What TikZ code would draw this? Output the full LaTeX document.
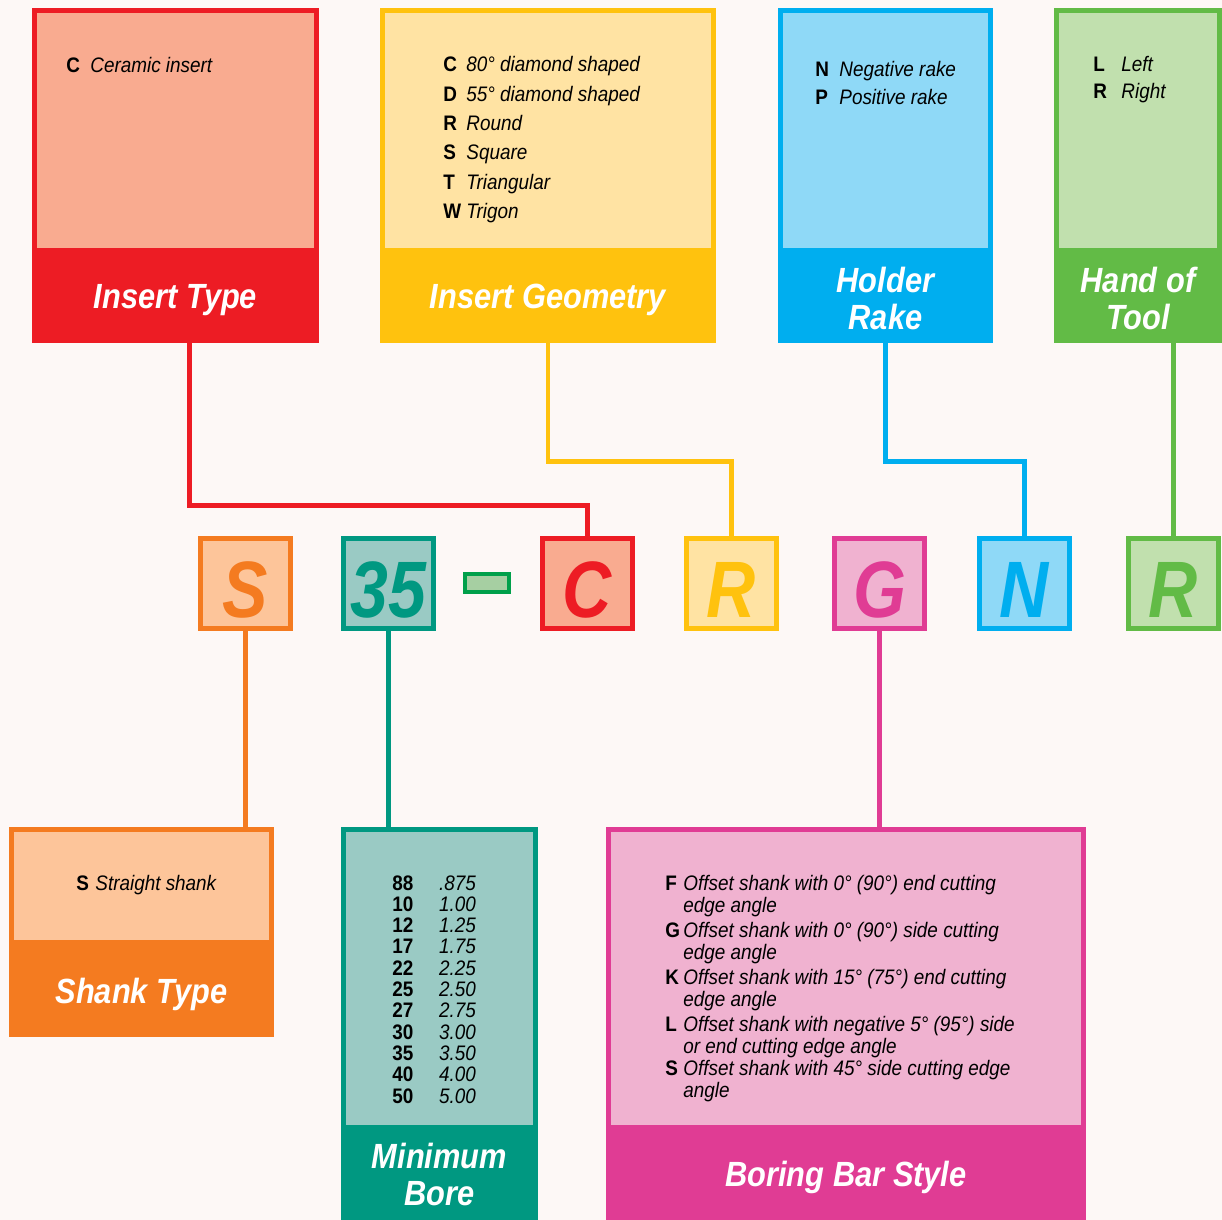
\documentclass[tikz,border=0pt]{standalone}
\usepackage{fontspec}
\usepackage{array}
\setmainfont{Liberation Sans}[FakeStretch=0.9]
\newfontfamily\headfont{Liberation Sans}[FakeStretch=0.88]
\newfontfamily\bigfont{Liberation Sans}[FakeStretch=0.85]
\usetikzlibrary{positioning}
\definecolor{insred}{HTML}{ED1C24}
\definecolor{insredlt}{HTML}{F9AB90}
\definecolor{geoyel}{HTML}{FFC20E}
\definecolor{geoyellt}{HTML}{FFE3A3}
\definecolor{rakeblu}{HTML}{00AEEF}
\definecolor{rakeblult}{HTML}{8FD9F7}
\definecolor{handgrn}{HTML}{62BB46}
\definecolor{handgrnlt}{HTML}{C1E0AE}
\definecolor{shankor}{HTML}{F47B20}
\definecolor{shankorlt}{HTML}{FDC59A}
\definecolor{boreteal}{HTML}{009881}
\definecolor{boreteallt}{HTML}{9ACAC4}
\definecolor{barmag}{HTML}{E03C94}
\definecolor{barmaglt}{HTML}{F0B2D0}
\definecolor{dashgrn}{HTML}{00A04A}
\definecolor{dashgrnlt}{HTML}{A6CFA2}
\definecolor{bgtint}{HTML}{FDF8F6}

\begin{document}
\begin{tikzpicture}[x=0.5pt, y=-0.5pt,
  card/.style={rectangle, inner sep=0pt, fill=#1},
  panel/.style={rectangle, inner sep=0pt, fill=#1, anchor=north},
  head/.style={text=white, align=center, inner sep=0pt,
               font=\headfont\bfseries\itshape\fontsize{17.5}{18.5}\selectfont},
  code/.style={rectangle, draw=#1, text=#1, line width=2.5pt, minimum size=45pt,
               inner sep=0pt, text height=34pt, text depth=0pt,
               font=\bigfont\bfseries\itshape\fontsize{40}{40}\selectfont},
  link/.style={draw=#1, line width=2.2pt},
  lst/.style={anchor=base west, inner sep=0pt}
]
\fill[bgtint] (0,0) rectangle (1222,1220);
\useasboundingbox (0,0) rectangle (1222,1220);

% top cards
\node[card=insred, minimum width=143.5pt, minimum height=167.5pt] (it) at (175.5,175.5) {};
\node[panel=insredlt, minimum width=138.5pt, minimum height=117.5pt] (itp) at ([yshift=-2.5pt]it.north) {};
\node[head] (ith) at ([yshift=21.5pt]it.south) {Insert Type};
\node[lst, font={\fontsize{10.5}{14.7}\selectfont}] (itx) at (66,73)
  {\begin{tabular}[t]{@{}>{\bfseries}p{12pt}@{}>{\itshape}l@{}}
   C & Ceramic insert
   \end{tabular}};

\node[card=geoyel, minimum width=168pt, minimum height=167.5pt] (ig) at (548,175.5) {};
\node[panel=geoyellt, minimum width=163pt, minimum height=117.5pt] (igp) at ([yshift=-2.5pt]ig.north) {};
\node[head] (igh) at ([yshift=21.5pt]ig.south) {Insert Geometry};
\node[lst, font={\fontsize{10.5}{14.65}\selectfont}] (igx) at (443,72)
  {\begin{tabular}[t]{@{}>{\bfseries}p{11.5pt}@{}>{\itshape}l@{}}
   C & 80° diamond shaped\\
   D & 55° diamond shaped\\
   R & Round\\
   S & Square\\
   T & Triangular\\
   W & Trigon
   \end{tabular}};

\node[card=rakeblu, minimum width=107.5pt, minimum height=167.5pt] (hr) at (885.5,175.5) {};
\node[panel=rakeblult, minimum width=102.5pt, minimum height=117.5pt] (hrp) at ([yshift=-2.5pt]hr.north) {};
\node[head] (hrh) at ([yshift=22.5pt]hr.south) {Holder\\Rake};
\node[lst, font={\fontsize{10.5}{13.5}\selectfont}] (hrx) at (815,77)
  {\begin{tabular}[t]{@{}>{\bfseries}p{12pt}@{}>{\itshape}l@{}}
   N & Negative rake\\
   P & Positive rake
   \end{tabular}};

\node[card=handgrn, minimum width=84pt, minimum height=167.5pt] (ht) at (1138,175.5) {};
\node[panel=handgrnlt, minimum width=79pt, minimum height=117.5pt] (htp) at ([yshift=-2.5pt]ht.north) {};
\node[head] (hth) at ([yshift=22.5pt]ht.south) {Hand of\\Tool};
\node[lst, font={\fontsize{10.5}{13.5}\selectfont}] (htx) at (1093,72)
  {\begin{tabular}[t]{@{}>{\bfseries}p{14pt}@{}>{\itshape}l@{}}
   L & Left\\
   R & Right
   \end{tabular}};

% code boxes
\node[code=shankor, fill=shankorlt] (s) at (245.5,583.5) {S};
\node[code=boreteal, fill=boreteallt] (n35) at (388.5,583.5) {35};
\node[rectangle, draw=dashgrn, fill=dashgrnlt, line width=2pt, minimum width=22pt,
      minimum height=9pt, inner sep=0pt] (dash) at (487,583) {};
\node[code=insred, fill=insredlt] (c) at (587.5,583.5) {C};
\node[code=geoyel, fill=geoyellt] (r1) at (731.5,583.5) {R};
\node[code=barmag, fill=barmaglt] (g) at (879.5,583.5) {G};
\node[code=rakeblu, fill=rakeblult] (n) at (1024.5,583.5) {N};
\node[code=handgrn, fill=handgrnlt] (r2) at (1173.5,583.5) {R};

% bottom cards
\node[card=shankor, minimum width=132.5pt, minimum height=105pt] (st) at (141.5,932) {};
\node[panel=shankorlt, minimum width=127.5pt, minimum height=54pt] (stp) at ([yshift=-2.5pt]st.north) {};
\node[head] (sth) at ([yshift=21.5pt]st.south) {Shank Type};
\node[lst, font={\fontsize{10.5}{13}\selectfont}] (stx) at (76,890)
  {\begin{tabular}[t]{@{}>{\bfseries}p{9.5pt}@{}>{\itshape}l@{}}
   S & Straight shank
   \end{tabular}};

\node[card=boreteal, minimum width=98.5pt, minimum height=196.5pt] (mb) at (439.5,1023.5) {};
\node[panel=boreteallt, minimum width=93.5pt, minimum height=146.5pt] (mbp) at ([yshift=-2.5pt]mb.north) {};
\node[head] (mbh) at ([yshift=23pt]mb.south) {Minimum\\Bore};
\node[lst, font={\fontsize{10.5}{10.65}\selectfont}] (mbx) at (392,890)
  {\begin{tabular}[t]{@{}>{\bfseries}p{23.3pt}@{}>{\itshape}l@{}}
   88 & .875\\
   10 & 1.00\\
   12 & 1.25\\
   17 & 1.75\\
   22 & 2.25\\
   25 & 2.50\\
   27 & 2.75\\
   30 & 3.00\\
   35 & 3.50\\
   40 & 4.00\\
   50 & 5.00
   \end{tabular}};

\node[card=barmag, minimum width=240pt, minimum height=196.5pt] (bb) at (846,1023.5) {};
\node[panel=barmaglt, minimum width=235pt, minimum height=146.5pt] (bbp) at ([yshift=-2.5pt]bb.north) {};
\node[head] (bbh) at ([yshift=21.5pt]bb.south) {Boring Bar Style};
\node[lst, font={\fontsize{10.5}{11}\selectfont}] (bbx) at (665,890)
  {\begin{tabular}[t]{@{}>{\bfseries}p{9pt}@{}>{\itshape}l@{}}
   F & Offset shank with 0° (90°) end cutting\\
     & edge angle\\[1.5pt]
   G & Offset shank with 0° (90°) side cutting\\
     & edge angle\\[1.5pt]
   K & Offset shank with 15° (75°) end cutting\\
     & edge angle\\[1.5pt]
   L & Offset shank with negative 5° (95°) side\\
     & or end cutting edge angle\\
   S & Offset shank with 45° side cutting edge\\
     & angle
   \end{tabular}};

% connectors
\draw[link=insred] ([xshift=7pt]it.south) -- ++(0,162) -| (c.north);
\draw[link=geoyel] (ig.south) -- ++(0,118) -| (r1.north);
\draw[link=rakeblu] (hr.south) -- ++(0,118) -| (n.north);
\draw[link=handgrn] (r2.north) -- (r2.north |- ht.south);
\draw[link=shankor] (s.south) -- (s.south |- st.north);
\draw[link=boreteal] (n35.south) -- (n35.south |- mb.north);
\draw[link=barmag] (g.south) -- (g.south |- bb.north);
\end{tikzpicture}
\end{document}
